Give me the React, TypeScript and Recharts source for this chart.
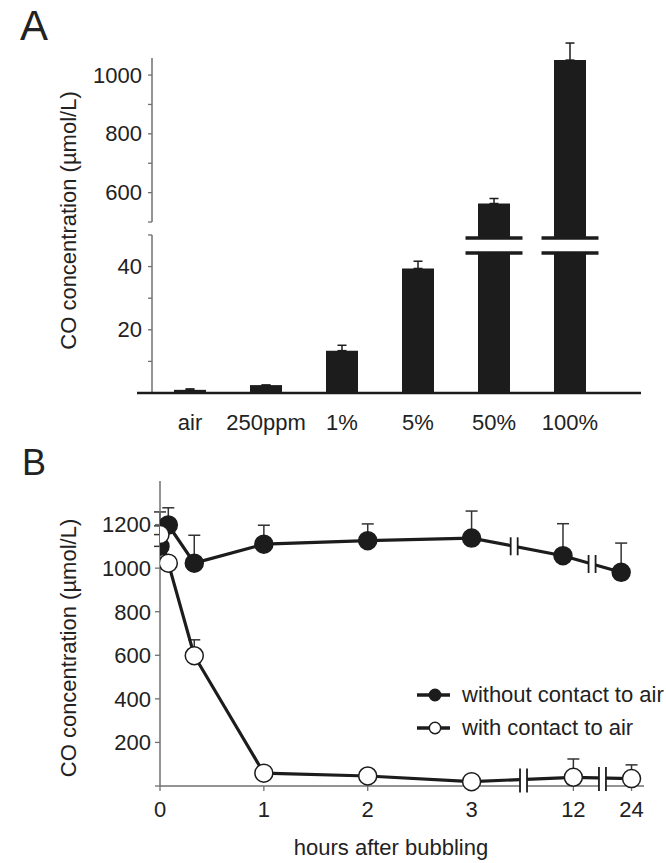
import {
  BarChart,
  Bar,
  XAxis,
  YAxis,
  ErrorBar,
  ReferenceLine,
  ReferenceDot,
  LineChart,
  Line,
  Legend,
} from 'recharts';

const FONT = "'Liberation Sans', Arial, Helvetica, sans-serif";
const INK = '#1c1c1c';
const AXIS_GREY = '#707070';
const TEXT = '#222';
const FS = 22;

// ---- panel A: CO after bubbling with different gas mixtures ----
const GASES = ['air', '250ppm', '1%', '5%', '50%', '100%'];
const GAS_CO = [1.0, 2.5, 13.4, 39.4, 563, 1051];
const GAS_CO_SD = [0.3, 0, 1.7, 2.3, 17, 58];
const A_TICKS_LOW = [0, 10, 20, 30, 40, 50];
const A_TICKS_HIGH = [500, 600, 700, 800, 900, 1000];
const A_TICK_LABELS = [20, 40, 600, 800, 1000];

// broken y axis: 0-50 drawn linearly, 500-1060 squeezed above a small gap
const LOW_MAX = 50;
const HIGH_MIN = 500;
const HIGH_START = 54.1;
const HIGH_SCALE = 0.093;
const A_TOP = 106;
const CUT_FROM = 44.3;
const CUT_TO = 49.05;

const toAxis = (v: number) => (v <= LOW_MAX ? v : HIGH_START + (v - HIGH_MIN) * HIGH_SCALE);

const barData = GASES.map((name, i) => {
  const v = GAS_CO[i];
  const top = toAxis(v);
  const broken = v > LOW_MAX;
  const err = [0, toAxis(v + GAS_CO_SD[i]) - top];
  return {
    name,
    base: broken ? CUT_FROM : top,
    cut: broken ? CUT_TO - CUT_FROM : 0,
    rest: broken ? top - CUT_TO : 0,
    // whisker sits on whichever stack piece is the real top of the bar
    errBase: broken ? [0, 0] : err,
    errRest: broken ? err : [0, 0],
  };
});

const A_TICKS = [...A_TICKS_LOW, ...A_TICKS_HIGH];
const A_TICK_REAL = new Map(A_TICKS.map((v) => [toAxis(v), v]));

// ---- panel B: CO over time ----
const B_TICK_POS = [0, 1, 2, 3, 3.98, 4.54];
const B_TICK_LABELS = ['0', '1', '2', '3', '12', '24'];
const B_Y_TICKS = [0, 200, 400, 600, 800, 1000, 1200];

const WITHOUT_POS = [0, 0.08, 0.33, 1, 2, 3, 3.88, 4.44];
const WITHOUT_CO = [1100, 1198, 1023, 1110, 1126, 1138, 1057, 981];
const WITHOUT_SD = [158, 79, 128, 87, 77, 124, 147, 134];
const WITH_POS = [0, 0.08, 0.33, 1, 2, 3, 3.98, 4.54];
const WITH_CO = [1154, 1023, 598, 59, 46, 20, 40, 34];
const WITH_SD = [40, 0, 73, 0, 0, 0, 84, 63];

// where the time axis is interrupted on each curve
const WITHOUT_CUTS = [3.41, 4.16];
const WITH_CUTS = [3.5, 4.26];

const SERIES_NAMES = ['without contact to air', 'with contact to air'];
const SERIES_FILL = [INK, '#ffffff'];

const tickLabel = new Map(B_TICK_POS.map((p, i) => [p, B_TICK_LABELS[i]]));

const toPoints = (pos: number[], co: number[], sd: number[]) =>
  pos.map((t, i) => ({ t, co: co[i], err: [0, sd[i]] }));

const withoutData = toPoints(WITHOUT_POS, WITHOUT_CO, WITHOUT_SD);
const withData = toPoints(WITH_POS, WITH_CO, WITH_SD);

// y of a polyline at x (used to sit the break marks on the curve)
function interp(xs: number[], ys: number[], x: number) {
  for (let i = 1; i < xs.length; i++) {
    if (x <= xs[i]) {
      const f = (x - xs[i - 1]) / (xs[i] - xs[i - 1]);
      return ys[i - 1] + f * (ys[i] - ys[i - 1]);
    }
  }
  return ys[ys.length - 1];
}

// ---- custom bits ----
function TickA(props: any) {
  const { x, y, payload } = props;
  const real = A_TICK_REAL.get(payload.value);
  if (real === 0) {
    // x axis runs a little past the y axis
    return <line x1={x - 15} x2={x} y1={y} y2={y} stroke={INK} strokeWidth={2.5} />;
  }
  return (
    <g>
      <line x1={x - 4} x2={x} y1={y} y2={y} stroke={AXIS_GREY} strokeWidth={1.3} />
      {A_TICK_LABELS.includes(real as number) && (
        <text
          x={x - 10}
          y={y}
          textAnchor="end"
          dominantBaseline="central"
          fontSize={FS}
          fontFamily={FONT}
          fill={TEXT}
        >
          {real}
        </text>
      )}
    </g>
  );
}

// white gap with two thick strokes across a broken bar
function CutBar(props: any) {
  const { x, y, width, height } = props;
  if (!height) return null;
  const over = 12.5;
  return (
    <g>
      <rect x={x - over} y={y} width={width + over * 2} height={height} fill="#fff" />
      <line x1={x - over} x2={x + width + over} y1={y} y2={y} stroke={INK} strokeWidth={3.5} />
      <line
        x1={x - over}
        x2={x + width + over}
        y1={y + height}
        y2={y + height}
        stroke={INK}
        strokeWidth={3.5}
      />
    </g>
  );
}

// "//" style break on a curve: two short bars with a white gap
function CutMark({ cx, cy, up, down }: any) {
  if (cx == null || cy == null) return null;
  return (
    <g>
      <rect x={cx - 3.5} y={cy - up} width={7} height={up + down} fill="#fff" />
      <line x1={cx - 3.5} x2={cx - 3.5} y1={cy - up} y2={cy + down} stroke={INK} strokeWidth={1.8} />
      <line x1={cx + 3.5} x2={cx + 3.5} y1={cy - up} y2={cy + down} stroke={INK} strokeWidth={1.8} />
    </g>
  );
}

function AxisTitle(props: any) {
  const vb = props.viewBox ?? { x: 0, y: 0, width: 0, height: 0 };
  const { text, atX, shiftY = 0, rotate = false, shiftX = 0, fromBottom = 0 } = props;
  if (rotate) {
    const cx = vb.x + atX;
    const cy = vb.y + vb.height / 2 + shiftY;
    return (
      <text
        x={cx}
        y={cy}
        transform={`rotate(-90, ${cx}, ${cy})`}
        textAnchor="middle"
        dominantBaseline="central"
        fontSize={FS}
        fontFamily={FONT}
        fill={TEXT}
      >
        {text}
      </text>
    );
  }
  return (
    <text
      x={vb.x + vb.width / 2 + shiftX}
      y={vb.y + vb.height - fromBottom}
      textAnchor="middle"
      fontSize={FS}
      fontFamily={FONT}
      fill={TEXT}
    >
      {text}
    </text>
  );
}

function LegendB() {
  return (
    <div style={{ fontFamily: FONT, fontSize: FS, color: TEXT, lineHeight: 1 }}>
      {SERIES_NAMES.map((name, i) => (
        <div key={name} style={{ display: 'flex', alignItems: 'center', height: 33 }}>
          <svg width={45} height={20} style={{ display: 'block' }}>
            <line x1={0} x2={33} y1={10} y2={10} stroke={INK} strokeWidth={3.5} />
            <circle cx={18} cy={10} r={5.7} fill={SERIES_FILL[i]} stroke={INK} strokeWidth={1.5} />
          </svg>
          <span>{name}</span>
        </div>
      ))}
    </div>
  );
}

function PanelLetter({ letter, x, y, size }: { letter: string; x: number; y: number; size: number }) {
  return (
    <svg width={60} height={60} style={{ position: 'absolute', left: 0, top: y - 50 }}>
      <text x={x} y={50} fontSize={size} fontFamily={FONT} fill={TEXT}>
        {letter}
      </text>
    </svg>
  );
}

export default function App() {
  const tickFont = { fontSize: FS, fontFamily: FONT, fill: TEXT };
  return (
    <div
      style={{
        position: 'absolute',
        left: 0,
        top: 0,
        width: 666,
        height: 863,
        background: '#fff',
        fontFamily: FONT,
      }}
    >
      <PanelLetter letter="A" x={20} y={40} size={42} />
      <div style={{ position: 'absolute', left: 0, top: 0 }}>
        <BarChart
          width={666}
          height={440}
          data={barData}
          margin={{ top: 58, right: 25, left: 0, bottom: 0 }}
          barSize={32}
        >
          <XAxis
            dataKey="name"
            padding={{ left: 0, right: 33 }}
            axisLine={{ stroke: INK, strokeWidth: 2.5 }}
            tickLine={false}
            tickSize={0}
            tickMargin={21}
            height={47}
            tick={tickFont}
            interval={0}
          />
          <YAxis
            width={152}
            domain={[0, A_TOP]}
            ticks={A_TICKS.map(toAxis)}
            axisLine={false}
            tickLine={false}
            tickSize={0}
            tickMargin={0}
            interval={0}
            tick={(p: any) => <TickA {...p} />}
            label={<AxisTitle text="CO concentration (µmol/L)" rotate atX={68} shiftY={-5} />}
          />
          <ReferenceLine
            segment={[
              { x: 'air', y: 0 },
              { x: 'air', y: LOW_MAX },
            ]}
            position="start"
            stroke={AXIS_GREY}
            strokeWidth={1.5}
          />
          <ReferenceLine
            segment={[
              { x: 'air', y: toAxis(HIGH_MIN) },
              { x: 'air', y: A_TOP },
            ]}
            position="start"
            stroke={AXIS_GREY}
            strokeWidth={1.5}
          />
          <Bar dataKey="base" stackId="co" fill={INK} isAnimationActive={false}>
            <ErrorBar dataKey="errBase" width={4.5} stroke={INK} strokeWidth={1.5} direction="y" />
          </Bar>
          <Bar dataKey="cut" stackId="co" fill={INK} shape={(p: any) => <CutBar {...p} />} isAnimationActive={false} />
          <Bar dataKey="rest" stackId="co" fill={INK} isAnimationActive={false}>
            <ErrorBar dataKey="errRest" width={4.5} stroke={INK} strokeWidth={1.5} direction="y" />
          </Bar>
        </BarChart>
      </div>

      <PanelLetter letter="B" x={22} y={475} size={36} />
      <div style={{ position: 'absolute', left: 0, top: 440 }}>
        <LineChart width={666} height={423} margin={{ top: 41, right: 22, left: 0, bottom: 0 }}>
          <XAxis
            type="number"
            dataKey="t"
            domain={[0, 4.66]}
            ticks={B_TICK_POS}
            interval={0}
            allowDataOverflow
            axisLine={{ stroke: AXIS_GREY, strokeWidth: 1.5 }}
            tickLine={{ stroke: AXIS_GREY, strokeWidth: 1.3 }}
            tickSize={5}
            tickMargin={10}
            height={77}
            tick={tickFont}
            tickFormatter={(v: number) => tickLabel.get(v) ?? ''}
            label={<AxisTitle text="hours after bubbling" shiftX={-11} fromBottom={8} />}
          />
          <YAxis
            width={160}
            domain={[0, 1400]}
            ticks={B_Y_TICKS}
            interval={0}
            axisLine={{ stroke: AXIS_GREY, strokeWidth: 1.5 }}
            tickLine={{ stroke: AXIS_GREY, strokeWidth: 1.3 }}
            tickSize={5}
            tickMargin={4}
            tick={tickFont}
            tickFormatter={(v: number) => (v === 0 ? '' : String(v))}
            label={<AxisTitle text="CO concentration (µmol/L)" rotate atX={68} shiftY={14.5} />}
          />
          <Legend
            layout="vertical"
            align="center"
            verticalAlign="middle"
            wrapperStyle={{ left: 417, top: 238, width: 'auto', height: 'auto' }}
            content={() => <LegendB />}
          />
          <Line
            data={withoutData}
            dataKey="co"
            name={SERIES_NAMES[0]}
            stroke={INK}
            strokeWidth={3.2}
            dot={{ r: 9, fill: INK, stroke: INK, strokeWidth: 1.5 }}
            activeDot={false}
            isAnimationActive={false}
          >
            <ErrorBar dataKey="err" width={6} stroke="#333" strokeWidth={1.5} direction="y" />
          </Line>
          {WITHOUT_CUTS.map((c) => (
            <ReferenceDot
              key={`wo-${c}`}
              x={c}
              y={interp(WITHOUT_POS, WITHOUT_CO, c)}
              ifOverflow="visible"
              shape={(p: any) => <CutMark cx={p.cx} cy={p.cy} up={9} down={9} />}
            />
          ))}
          <Line
            data={withData}
            dataKey="co"
            name={SERIES_NAMES[1]}
            stroke={INK}
            strokeWidth={3.2}
            dot={{ r: 9, fill: '#fff', stroke: INK, strokeWidth: 1.5 }}
            activeDot={false}
            isAnimationActive={false}
          >
            <ErrorBar dataKey="err" width={6} stroke="#333" strokeWidth={1.5} direction="y" />
          </Line>
          {WITH_CUTS.map((c) => (
            <ReferenceDot
              key={`w-${c}`}
              x={c}
              y={interp(WITH_POS, WITH_CO, c)}
              ifOverflow="visible"
              shape={(p: any) => <CutMark cx={p.cx} cy={p.cy} up={11} down={13} />}
            />
          ))}
        </LineChart>
      </div>
    </div>
  );
}
